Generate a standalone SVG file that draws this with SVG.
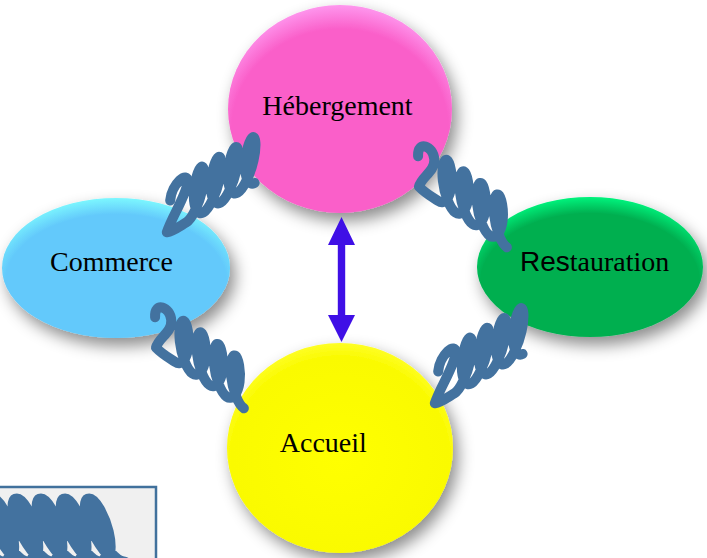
<svg xmlns="http://www.w3.org/2000/svg" xmlns:xlink="http://www.w3.org/1999/xlink" width="707" height="558" viewBox="0 0 707 558">
<style>
.lbl{font-family:"Liberation Serif","Times New Roman",serif;font-size:28px;fill:#000}
.sans{font-family:"Liberation Sans",Arial,sans-serif}
.coil{fill:none;stroke:#43729F;stroke-width:10;stroke-linecap:round;stroke-linejoin:round}
</style>
<defs>
<filter id="shadow" x="-30%" y="-30%" width="160%" height="170%">
<feGaussianBlur in="SourceAlpha" stdDeviation="8"/>
<feOffset dx="5" dy="8" result="b"/>
<feFlood flood-color="#000" flood-opacity="0.45"/>
<feComposite in2="b" operator="in"/>
<feMerge><feMergeNode/><feMergeNode in="SourceGraphic"/></feMerge>
</filter>
<radialGradient id="gPink" cx="50%" cy="60%" r="62%"><stop offset="0" stop-color="#FA5FC9"/><stop offset="0.78" stop-color="#FA5FC9"/><stop offset="1" stop-color="#FFA0F4"/></radialGradient>
<radialGradient id="gBlue" cx="50%" cy="60%" r="62%"><stop offset="0" stop-color="#63C9FB"/><stop offset="0.78" stop-color="#63C9FB"/><stop offset="1" stop-color="#80FFFF"/></radialGradient>
<radialGradient id="gGreen" cx="50%" cy="60%" r="62%"><stop offset="0" stop-color="#00AF50"/><stop offset="0.78" stop-color="#00AF50"/><stop offset="1" stop-color="#00FF84"/></radialGradient>
<radialGradient id="gYellow" cx="50%" cy="55%" r="60%"><stop offset="0" stop-color="#FFFF00"/><stop offset="0.8" stop-color="#FAFA00"/><stop offset="0.95" stop-color="#FFFF30"/><stop offset="1" stop-color="#E8E800"/></radialGradient>
<path id="coil3" vector-effect="non-scaling-stroke" d="M -14,-6 C -15,-18 4,-22 5,-12 C 6,-3 -10,8 -13,17 C -5,19 3,18 10.05,18 c 6.91,0 13.35,-8.58 15.03,-18 c 1.68,-9.42 -1.42,-18 -4.98,-18 c -3.56,0 -6.65,8.58 -4.97,18 c 1.68,9.42 8.11,18 15.02,18 c 6.91,0 13.35,-8.58 15.03,-18 c 1.68,-9.42 -1.42,-18 -4.98,-18 c -3.56,0 -6.65,8.58 -4.97,18 c 1.68,9.42 8.11,18 15.02,18 c 6.91,0 13.35,-8.58 15.03,-18 c 1.68,-9.42 -1.42,-18 -4.98,-18 c -3.56,0 -6.65,8.58 -4.97,18 c 1.68,9.42 8.11,18 15.02,18 c 6.91,0 13.35,-8.58 15.03,-18 c 1.68,-9.42 -1.42,-18 -4.98,-18 c -3.56,0 -6.65,8.58 -4.97,18 c 1.68,9.42 8.11,18 15.02,18"/>
<path id="coil5" vector-effect="non-scaling-stroke" d="M -14,-6 C -15,-18 4,-22 5,-12 C 6,-3 -10,8 -13,17 C -5,19 3,18 10.05,18 c 6.91,0 13.35,-8.58 15.03,-18 c 1.68,-9.42 -1.42,-18 -4.98,-18 c -3.56,0 -6.65,8.58 -4.97,18 c 1.68,9.42 8.11,18 15.02,18 c 6.91,0 13.35,-8.58 15.03,-18 c 1.68,-9.42 -1.42,-18 -4.98,-18 c -3.56,0 -6.65,8.58 -4.97,18 c 1.68,9.42 8.11,18 15.02,18 c 6.91,0 13.35,-8.58 15.03,-18 c 1.68,-9.42 -1.42,-18 -4.98,-18 c -3.56,0 -6.65,8.58 -4.97,18 c 1.68,9.42 8.11,18 15.02,18 c 6.91,0 13.35,-8.58 15.03,-18 c 1.68,-9.42 -1.42,-18 -4.98,-18 c -3.56,0 -6.65,8.58 -4.97,18 c 1.68,9.42 8.11,18 15.02,18 c 6.91,0 13.35,-8.58 15.03,-18 c 1.68,-9.42 -1.42,-18 -4.98,-18 c -3.56,0 -6.65,8.58 -4.97,18 c 1.68,9.42 8.11,18 15.02,18 c 6.91,0 13.35,-8.58 15.03,-18 c 1.68,-9.42 -1.42,-18 -4.98,-18 c -3.56,0 -6.65,8.58 -4.97,18 c 1.68,9.42 8.11,18 15.02,18"/>
<clipPath id="legendClip"><rect x="0" y="487" width="156" height="71"/></clipPath>
</defs>
<rect width="707" height="558" fill="#fff"/>

<g id="node-hebergement">
<ellipse cx="340" cy="109" rx="112" ry="104" fill="url(#gPink)" filter="url(#shadow)"/>
<text class="lbl" x="337.5" y="115" text-anchor="middle">Hébergement</text>
</g>
<g id="node-commerce">
<ellipse cx="116" cy="268" rx="114" ry="70" fill="url(#gBlue)" filter="url(#shadow)"/>
<text class="lbl" x="111.5" y="271" text-anchor="middle">Commerce</text>
</g>
<g id="node-restauration">
<ellipse cx="590" cy="267" rx="113" ry="70" fill="url(#gGreen)" filter="url(#shadow)"/>
<text class="lbl" x="520" y="271"><tspan class="sans">Res</tspan>tauration</text>
</g>
<g id="node-accueil">
<ellipse cx="340" cy="448" rx="113" ry="105" fill="url(#gYellow)" filter="url(#shadow)"/>
<text class="lbl" x="323.3" y="452" text-anchor="middle">Accueil</text>
</g>

<g id="connectors">
<use xlink:href="#coil3" class="coil" transform="translate(181,202) skewY(-30) skewX(-8) scale(0.85,1.3)"/>
<use xlink:href="#coil3" class="coil" transform="translate(430,172) skewY(34) scale(0.85,1.3)"/>
<use xlink:href="#coil3" class="coil" transform="translate(167,333) skewY(34) scale(0.85,1.3)"/>
<use xlink:href="#coil3" class="coil" transform="translate(449,373) skewY(-30) skewX(-8) scale(0.85,1.3)"/>
<path id="arrow" fill="#3F0FE6" d="M341.5,217 L355,245 L345.2,245 L345.2,315 L355,315 L341.5,342 L328,315 L337.8,315 L337.8,245 L328,245 Z"/>
</g>

<g id="legend">
<rect x="-2" y="487" width="158" height="80" fill="#F0F0F0" stroke="#41719C" stroke-width="2.5"/>
<g clip-path="url(#legendClip)">
<use xlink:href="#coil5" class="coil" style="stroke-width:14px" transform="translate(-44,532) skewX(20) scale(1.2,1.75)"/>
</g>
</g>
</svg>
